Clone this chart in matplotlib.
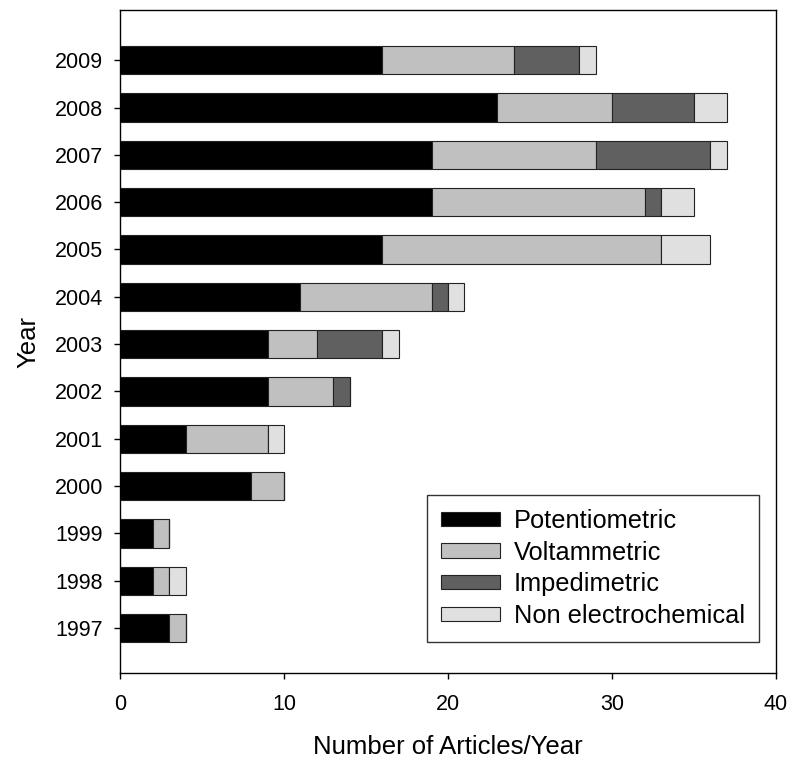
import numpy as np
import matplotlib
matplotlib.use("Agg")
import matplotlib.pyplot as plt

plt.rcParams['font.family'] = ['Liberation Sans', 'DejaVu Sans']

years = [1997, 1998, 1999, 2000, 2001, 2002, 2003, 2004, 2005, 2006, 2007, 2008, 2009]
potentiometric = [3, 2, 2, 8, 4, 9, 9, 11, 16, 19, 19, 23, 16]
voltammetric = [1, 1, 1, 2, 5, 4, 3, 8, 17, 13, 10, 7, 8]
impedimetric = [0, 0, 0, 0, 0, 1, 4, 1, 0, 1, 7, 5, 4]
non_electrochemical = [0, 1, 0, 0, 1, 0, 1, 1, 3, 2, 1, 2, 1]

series = [
    ("Potentiometric", potentiometric, "#000000"),
    ("Voltammetric", voltammetric, "#c0c0c0"),
    ("Impedimetric", impedimetric, "#606060"),
    ("Non electrochemical", non_electrochemical, "#e0e0e0"),
]

fig = plt.figure(figsize=(7.91, 7.59), dpi=100)
ax = fig.add_axes([0.1517, 0.1133, 0.8294, 0.8735])

left = np.zeros(len(years))
for name, vals, col in series:
    vals = np.array(vals, dtype=float)
    ax.barh(years, vals, left=left, height=0.6, color=col,
            edgecolor="#222222", linewidth=0.8, label=name)
    left += vals

ax.set_xlim(0, 40)
ax.set_ylim(1996.05, 2010.06)
ax.set_xticks([0, 10, 20, 30, 40])
ax.set_yticks(years)
ax.tick_params(axis="both", labelsize=15.5, direction="out", length=4.3, width=1)
ax.tick_params(axis="x", pad=11)
ax.tick_params(axis="y", pad=8)
ax.set_xlabel("Number of Articles/Year", fontsize=18.5, labelpad=14)
ax.set_ylabel("Year", fontsize=18.5, labelpad=10)

for sp in ax.spines.values():
    sp.set_linewidth(1)

leg = ax.legend(loc="lower right", bbox_to_anchor=(0.974, 0.047), fontsize=18.3,
                frameon=True, fancybox=False, edgecolor="black",
                handlelength=2.3, handleheight=0.5, labelspacing=0.3,
                borderpad=0.55, handletextpad=0.55, borderaxespad=0)
leg.get_frame().set_linewidth(1)

fig.savefig("out.png", dpi=100)
